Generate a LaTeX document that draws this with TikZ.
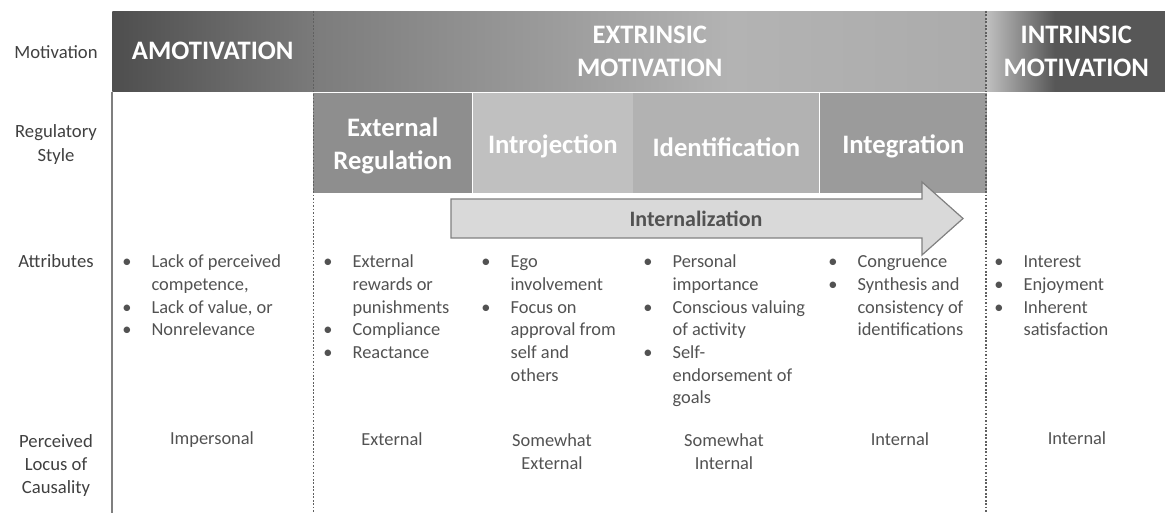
\documentclass[tikz,border=0pt]{standalone}
\usepackage{fontspec}
\setmainfont{Carlito}
\usepackage{tikz}
\usetikzlibrary{positioning}

\definecolor{amotL}{HTML}{4E4E4E}
\definecolor{amotR}{HTML}{7A7A7A}
\definecolor{extrL}{HTML}{7C7C7C}
\definecolor{extrM}{HTML}{B3B3B3}
\definecolor{extrR}{HTML}{ABABAB}
\definecolor{intrL}{HTML}{C0C0C0}
\definecolor{intrR}{HTML}{575757}
\definecolor{regA}{HTML}{8E8E8E}
\definecolor{regB}{HTML}{C0C0C0}
\definecolor{regC}{HTML}{B2B2B2}
\definecolor{regD}{HTML}{9B9B9B}
\definecolor{arrowfill}{HTML}{D9D9D9}
\definecolor{arrowline}{HTML}{808080}
\definecolor{labeltext}{HTML}{404040}
\definecolor{bodytext}{HTML}{525252}
\definecolor{rulegray}{HTML}{7F7F7F}
\definecolor{dotgray}{HTML}{606060}

\pgfdeclarehorizontalshading{extrshade}{100bp}{color(0bp)=(extrL); color(25bp)=(extrL); color(56bp)=(extrM); color(75bp)=(extrR); color(100bp)=(extrR)}
\pgfdeclarehorizontalshading{intrshade}{100bp}{color(0bp)=(intrL); color(25bp)=(intrL); color(44bp)=(intrR); color(100bp)=(intrR)}

\tikzstyle{motbox} = [rectangle, anchor=north west, minimum height=60pt, inner sep=0pt, text=white, align=center, font=\bfseries\fontsize{20}{24.5}\selectfont]
\tikzstyle{regbox} = [rectangle, anchor=north west, minimum height=75pt, inner sep=0pt]
\tikzstyle{regtext} = [inner sep=0pt, text=white, align=center, font=\bfseries\fontsize{20}{24.5}\selectfont]
\tikzstyle{rowlabel} = [align=center, inner sep=0pt, text=labeltext, font=\fontsize{14}{17.6}\selectfont]
\tikzstyle{attr} = [anchor=base west, inner sep=0pt, text=bodytext, font=\fontsize{13.8}{17}\selectfont]
\tikzstyle{locus} = [align=center, inner sep=0pt, text=bodytext, font=\fontsize{13.8}{17}\selectfont]
\tikzstyle{divider} = [dotgray, line width=0.9pt, dash pattern=on 1.3pt off 1.3pt]

% bullet list: bullet column + text column
\newcommand{\attrlist}[1]{\begin{tabular}[t]{@{}p{22pt}@{}l@{}}#1\end{tabular}}

\begin{document}
\begin{tikzpicture}[x=0.75pt,y=-0.75pt]
\useasboundingbox (0,0) rectangle (1165,513);

% motivation band
\node[motbox,left color=amotL,right color=amotR,minimum width=150.75pt] (amot) at (112,11) {AMOTIVATION};
\node[motbox,shading=extrshade,minimum width=504pt] (extr) at (amot.north east) {EXTRINSIC\\MOTIVATION};
\node[motbox,shading=intrshade,minimum width=135pt] (intr) at (extr.north east) {INTRINSIC\\MOTIVATION};

% regulatory styles
\node[regbox,fill=regA,minimum width=119.25pt] (extreg) at (313,93) {};
\node[regbox,fill=regB,minimum width=120pt] (introj) at (extreg.north east) {};
\node[regbox,fill=regC,minimum width=139.5pt] (ident) at (introj.north east) {};
\node[regbox,fill=regD,minimum width=125.25pt] (integ) at (ident.north east) {};
\node[regtext] (extregtxt) at (extreg) [yshift=-2.2pt] {External\\Regulation};
\node[regtext] (introjtxt) at (introj) [yshift=-2.6pt] {Introjection};
\node[regtext] (identtxt) at (ident) [yshift=-2.6pt] {Identification};
\node[regtext] (integtxt) at (integ) [yshift=-2.6pt] {Integration};

% column rules
\draw[rulegray,line width=1.3pt] (amot.south west) -- ++(0,422);
\draw[divider] (amot.north east) -- ++(0,502);
\draw[divider] (intr.north west) -- ++(0,502);

% internalization arrow
\draw[fill=arrowfill,draw=arrowline,line width=0.9pt] (451,199) -- (922,199) -- (922,182)
      -- (963,218.5) -- (922,255) -- (922,238) -- (451,238) -- cycle;
\node[text=bodytext,font=\bfseries\fontsize{16.5}{19}\selectfont] (internal) at (696,219) {Internalization};

% row labels
\node[rowlabel] (lmot) at (56,52) {Motivation};
\node[rowlabel] (lreg) at (56,144.5) {Regulatory\\Style};
\node[rowlabel,anchor=base] (latt) at (56,268) {Attributes};
\node[rowlabel] (lloc) at (56,465.5) {Perceived\\Locus of\\Causality};

% attributes
\node[attr] (aamot) at (122,268) {\attrlist{\textbullet & Lack of perceived\\ & competence,\\
      \textbullet & Lack of value, or\\ \textbullet & Nonrelevance}};
\node[attr] (aext) at (323,268) {\attrlist{\textbullet & External\\ & rewards or\\ & punishments\\
      \textbullet & Compliance\\ \textbullet & Reactance}};
\node[attr] (aintro) at (481,268) {\attrlist{\textbullet & Ego\\ & involvement\\
      \textbullet & Focus on\\ & approval from\\ & self and\\ & others}};
\node[attr] (aident) at (643,268) {\attrlist{\textbullet & Personal\\ & importance\\
      \textbullet & Conscious valuing\\ & of activity\\ \textbullet & Self-\\ & endorsement of\\ & goals}};
\node[attr] (ainteg) at (828,268) {\attrlist{\textbullet & Congruence\\
      \textbullet & Synthesis and\\ & consistency of\\ & identifications}};
\node[attr] (aintr) at (994,268) {\attrlist{\textbullet & Interest\\ \textbullet & Enjoyment\\
      \textbullet & Inherent\\ & satisfaction}};

% perceived locus of causality
\node[locus] (pamot) at (212,440) {Impersonal};
\node[locus] (pext) at (392,439) {External};
\node[locus] (pintro) at (552,451.5) {Somewhat\\External};
\node[locus] (pident) at (724,451.5) {Somewhat\\Internal};
\node[locus] (pinteg) at (900,439) {Internal};
\node[locus] (pintr) at (1077,438) {Internal};
\end{tikzpicture}
\end{document}
